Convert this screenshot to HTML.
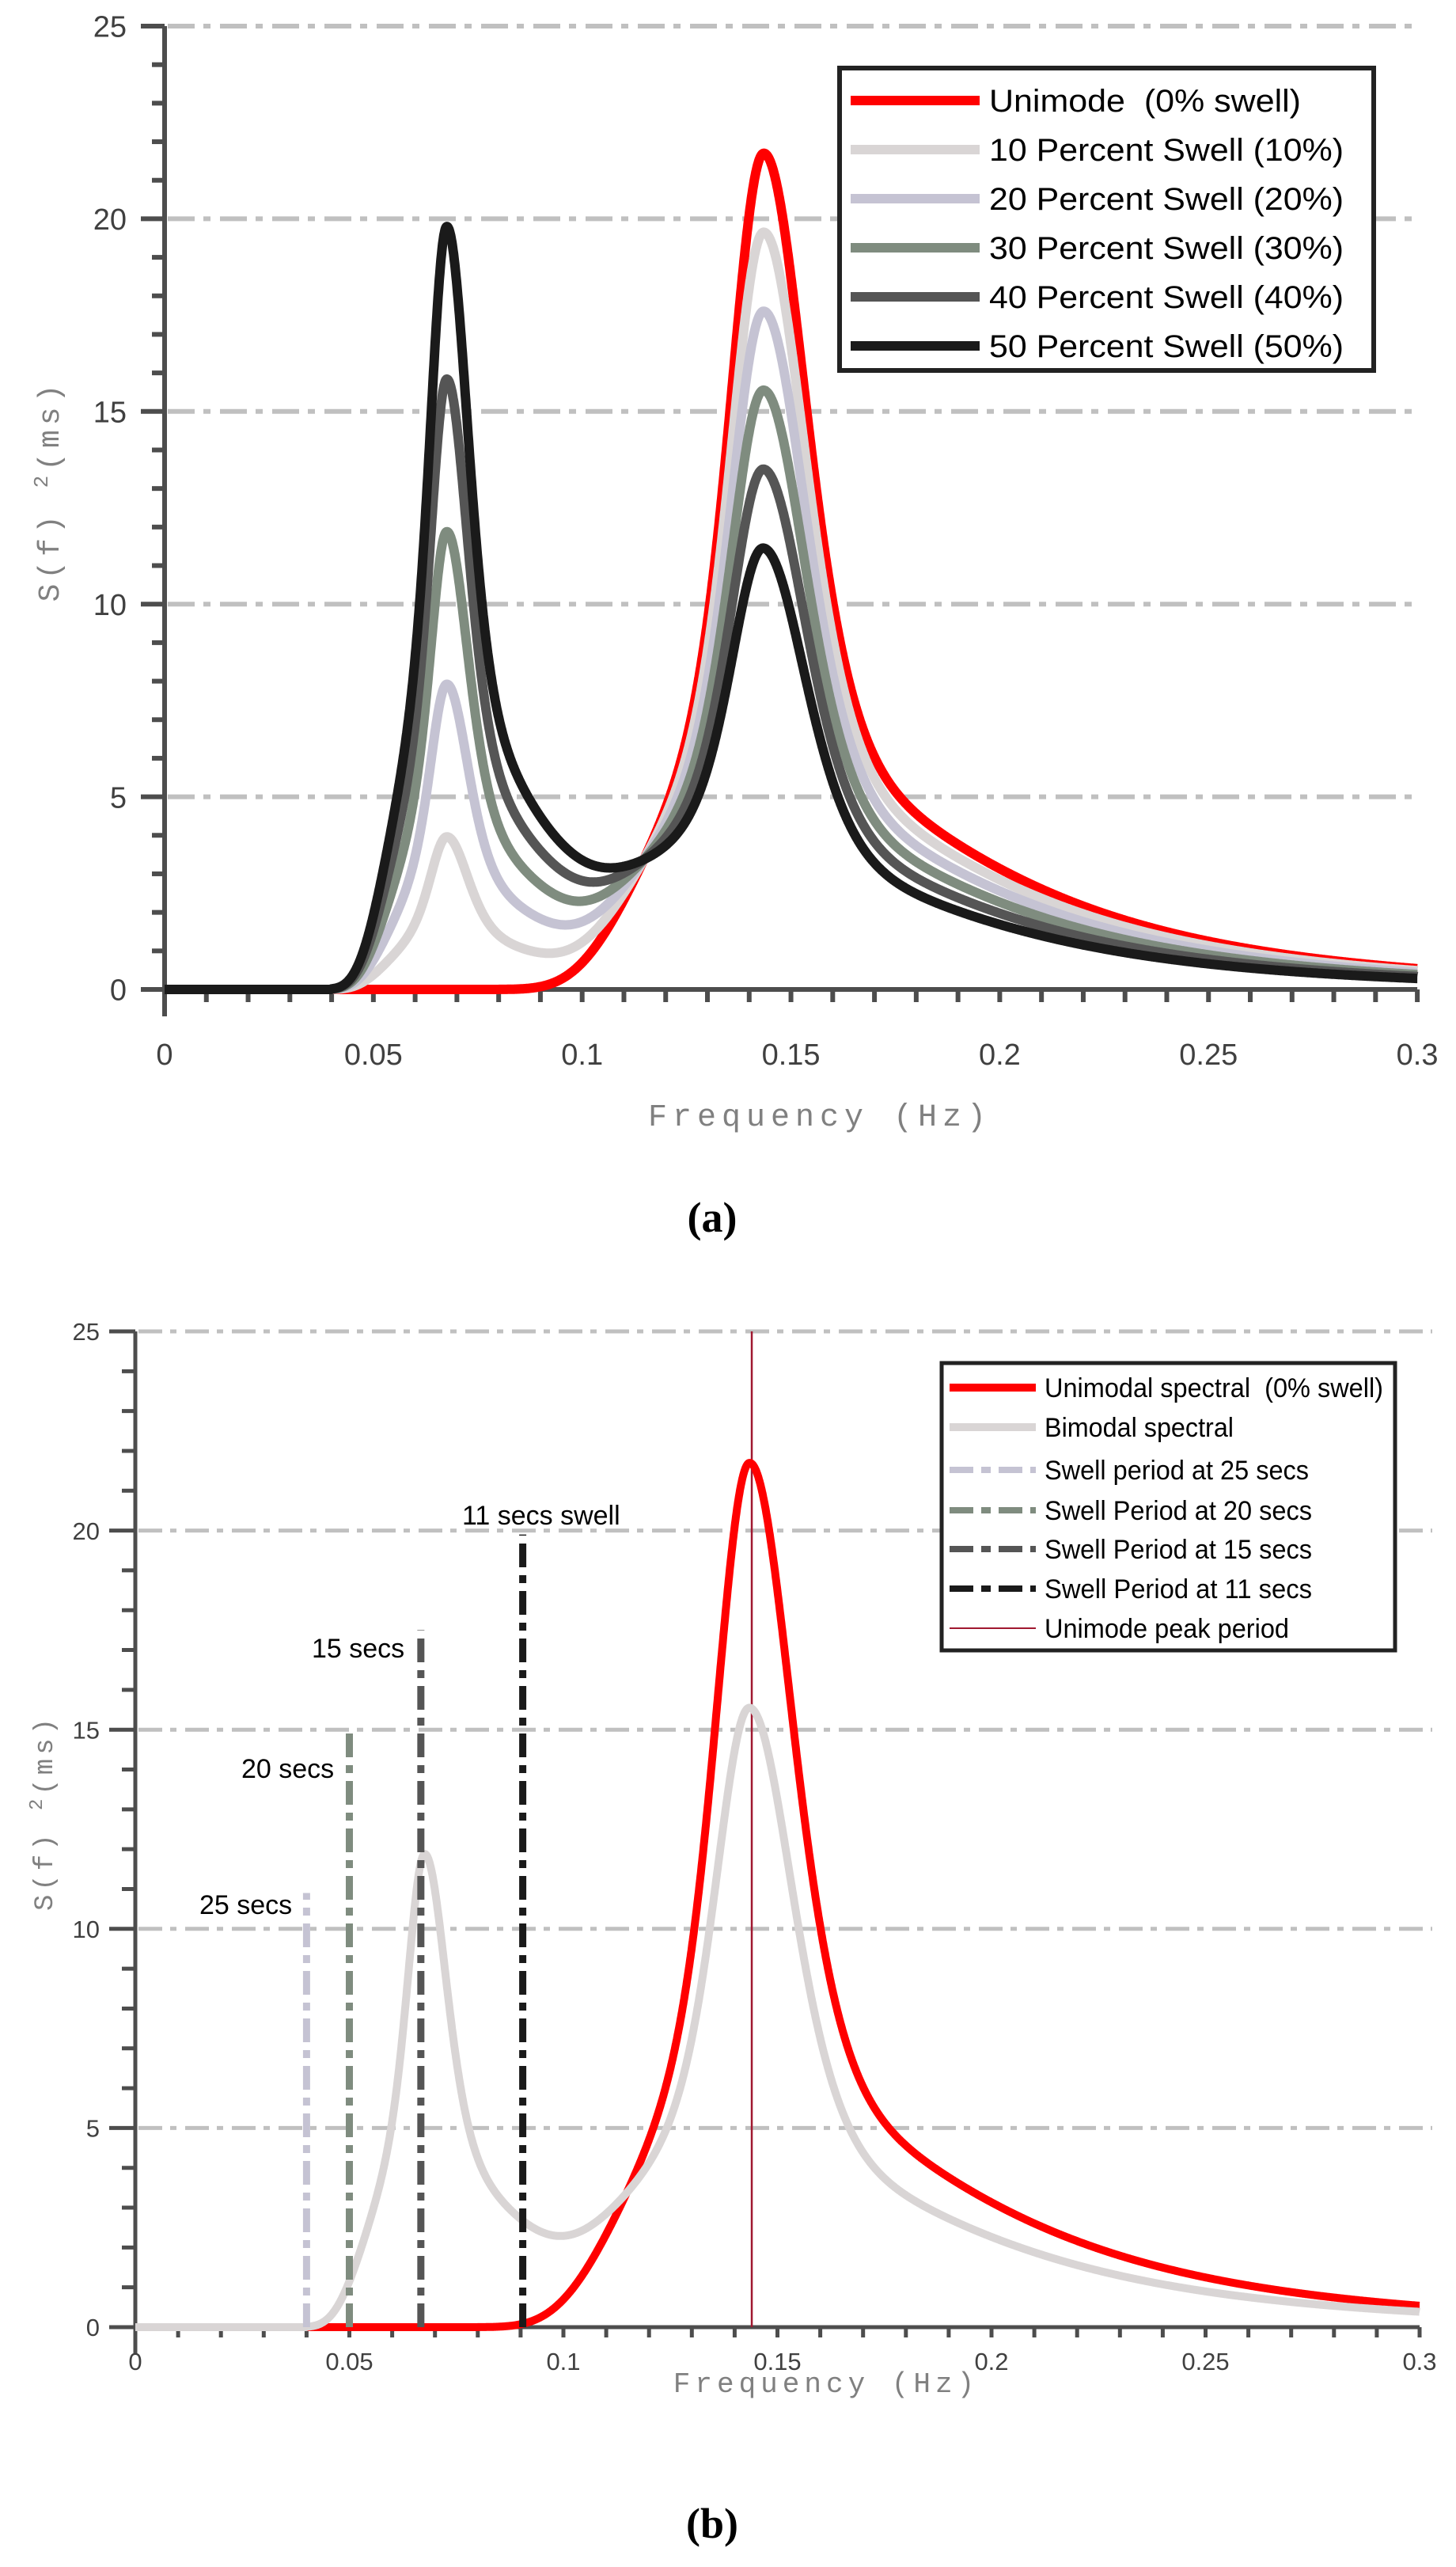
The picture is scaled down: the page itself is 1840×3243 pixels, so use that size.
<!DOCTYPE html>
<html><head><meta charset="utf-8">
<style>
html,body{margin:0;padding:0;background:#fff;}
svg{display:block;}
.tk{font-family:"Liberation Sans",sans-serif;fill:#404040;}
.mono{font-family:"Liberation Mono",monospace;fill:#808080;}
.lg{font-family:"Liberation Sans",sans-serif;fill:#000;}
</style></head>
<body>
<svg id="s" width="1840" height="3243" viewBox="0 0 1840 3243" xmlns="http://www.w3.org/2000/svg">
<rect width="1840" height="3243" fill="#fff"/>
<g id="A"></g>
<g id="B"></g>
<text class="mono" font-size="40" letter-spacing="7" x="1036" y="1422" text-anchor="middle">Frequency (Hz)</text>
<text class="mono" font-size="38" letter-spacing="6" transform="translate(74,620) rotate(-90)" text-anchor="middle">S(f) <tspan font-size="26" dy="-14">2</tspan><tspan dy="14">(ms)</tspan></text>
<text x="900" y="1556" font-family="Liberation Serif,serif" font-weight="bold" font-size="54" text-anchor="middle">(a)</text>
<rect x="1061" y="86" width="675" height="382" fill="#fff" stroke="#222" stroke-width="6"/>
<g stroke-width="12">
<line x1="1075" y1="127" x2="1238" y2="127" stroke="#ff0000"/>
<line x1="1075" y1="189" x2="1238" y2="189" stroke="#d9d5d5"/>
<line x1="1075" y1="251" x2="1238" y2="251" stroke="#c5c3d3"/>
<line x1="1075" y1="313" x2="1238" y2="313" stroke="#7f8c7f"/>
<line x1="1075" y1="375" x2="1238" y2="375" stroke="#555555"/>
<line x1="1075" y1="437" x2="1238" y2="437" stroke="#1a1a1a"/>
</g>
<g class="lg" font-size="40">
<text x="1250" y="141" xml:space="preserve" textLength="394" lengthAdjust="spacingAndGlyphs">Unimode  (0% swell)</text>
<text x="1250" y="203" textLength="448" lengthAdjust="spacingAndGlyphs">10 Percent Swell (10%)</text>
<text x="1250" y="265" textLength="448" lengthAdjust="spacingAndGlyphs">20 Percent Swell (20%)</text>
<text x="1250" y="327" textLength="448" lengthAdjust="spacingAndGlyphs">30 Percent Swell (30%)</text>
<text x="1250" y="389" textLength="448" lengthAdjust="spacingAndGlyphs">40 Percent Swell (40%)</text>
<text x="1250" y="451" textLength="448" lengthAdjust="spacingAndGlyphs">50 Percent Swell (50%)</text>
</g>
<text class="mono" font-size="36" letter-spacing="6" x="1044" y="3022" text-anchor="middle">Frequency (Hz)</text>
<text class="mono" font-size="34" letter-spacing="5" transform="translate(66,2290) rotate(-90)" text-anchor="middle">S(f) <tspan font-size="24" dy="-13">2</tspan><tspan dy="13">(ms)</tspan></text>
<text x="900" y="3206" font-family="Liberation Serif,serif" font-weight="bold" font-size="54" text-anchor="middle">(b)</text>
<g class="lg" font-size="34">
<text x="584" y="1926">11 secs swell</text>
<text x="394" y="2094">15 secs</text>
<text x="305" y="2246">20 secs</text>
<text x="252" y="2418">25 secs</text>
</g>
<g id="LB">
<rect x="1190" y="1722" width="573" height="363" fill="#fff" stroke="#222" stroke-width="5"/>
<line x1="1200" y1="1753" x2="1309" y2="1753" stroke="#ff0000" stroke-width="10"/>
<line x1="1200" y1="1803" x2="1309" y2="1803" stroke="#d9d5d5" stroke-width="10"/>
<line x1="1200" y1="1857" x2="1309" y2="1857" stroke="#c5c3d3" stroke-width="8" stroke-dasharray="30 10 12 10"/>
<line x1="1200" y1="1908" x2="1309" y2="1908" stroke="#7f8c7f" stroke-width="8" stroke-dasharray="30 10 12 10"/>
<line x1="1200" y1="1957" x2="1309" y2="1957" stroke="#555555" stroke-width="8" stroke-dasharray="30 10 12 10"/>
<line x1="1200" y1="2007" x2="1309" y2="2007" stroke="#1a1a1a" stroke-width="8" stroke-dasharray="30 10 12 10"/>
<line x1="1200" y1="2057" x2="1309" y2="2057" stroke="#a01830" stroke-width="2"/>
<g class="lg" font-size="34">
<text x="1320" y="1765" xml:space="preserve" textLength="428" lengthAdjust="spacingAndGlyphs">Unimodal spectral  (0% swell)</text>
<text x="1320" y="1815" textLength="239" lengthAdjust="spacingAndGlyphs">Bimodal spectral</text>
<text x="1320" y="1869" textLength="334" lengthAdjust="spacingAndGlyphs">Swell period at 25 secs</text>
<text x="1320" y="1920" textLength="338" lengthAdjust="spacingAndGlyphs">Swell Period at 20 secs</text>
<text x="1320" y="1969" textLength="338" lengthAdjust="spacingAndGlyphs">Swell Period at 15 secs</text>
<text x="1320" y="2019" textLength="338" lengthAdjust="spacingAndGlyphs">Swell Period at 11 secs</text>
<text x="1320" y="2069" textLength="309" lengthAdjust="spacingAndGlyphs">Unimode peak period</text>
</g>
</g>
</svg>
<script>
(function(){
var NS="http://www.w3.org/2000/svg";
function el(p,n,a){var e=document.createElementNS(NS,n);for(var k in a)e.setAttribute(k,a[k]);p.appendChild(e);return e;}
function shape(f,fp,g){ if(f<=0) return 0; var r=fp/f; var s=f<=fp?0.07:0.09;
  return Math.pow(r,5)*Math.exp(-1.25*(Math.pow(r,4)-1))*Math.pow(g,Math.exp(-(f-fp)*(f-fp)/(2*s*s*fp*fp))-1);}
function S(f,p){ var w=21.7*shape(f,0.1435,3.3); var sw=f<0.04?0:39.6*shape(f,0.0676,2.5);
  var v=(1-p)*w+p*sw; if(f<0.04) v=0; return v;}
function curve(g,X,Y,p,col,w){ var d="";for(var i=0;i<=3000;i++){var f=i*0.0001;
  d+=(i?"L":"M")+X(f).toFixed(1)+" "+Y(S(f,p)).toFixed(1);}
  el(g,"path",{d:d,fill:"none",stroke:col,"stroke-width":w,"stroke-linejoin":"round"});}
function axes(g,X,Y,o){
  for(var v=5;v<=25;v+=5) el(g,"line",{x1:X(0)+4,x2:o.gx2,y1:Y(v),y2:Y(v),stroke:"#c0c0c0","stroke-width":o.gw,"stroke-dasharray":o.dash});
  var ac="#4d4d4d";
  el(g,"line",{x1:X(0),x2:X(0),y1:Y(25),y2:Y(0)+o.ext,stroke:ac,"stroke-width":o.aw});
  el(g,"line",{x1:X(0),x2:X(0.3),y1:Y(0),y2:Y(0),stroke:ac,"stroke-width":o.aw});
  for(var i=0;i<=25;i++){var L=i%5==0?o.maj:o.min; el(g,"line",{x1:X(0)-L,x2:X(0),y1:Y(i),y2:Y(i),stroke:ac,"stroke-width":o.tw});
    if(i%5==0){var t=el(g,"text",{x:o.ylx,y:Y(i)+o.fs*0.36,"text-anchor":"end","font-size":o.fs,class:"tk"});t.textContent=i;}}
  for(var j=0;j<=30;j++){ el(g,"line",{x1:X(j/100),x2:X(j/100),y1:Y(0),y2:Y(0)+o.xmin,stroke:ac,"stroke-width":o.tw});
    if(j%5==0){var t2=el(g,"text",{x:X(j/100),y:o.xly,"text-anchor":"middle","font-size":o.fs,class:"tk"});t2.textContent=(j/100).toString();}}
}
var A=document.getElementById("A");
var XA=function(f){return 208+f*5277;}, YA=function(v){return 1250-v*48.68;};
axes(A,XA,YA,{gx2:1792,gw:6,dash:"34 11 9 12",ext:34,aw:6,tw:6,maj:30,min:16,xmin:16,fs:38,ylx:160,xly:1345});
curve(A,XA,YA,0,"#ff0000",12);
curve(A,XA,YA,0.1,"#d9d5d5",12);
curve(A,XA,YA,0.2,"#c5c3d3",12);
curve(A,XA,YA,0.3,"#7f8c7f",12);
curve(A,XA,YA,0.4,"#555555",12);
curve(A,XA,YA,0.5,"#1a1a1a",12);
var B=document.getElementById("B");
var XB=function(f){return 171+f*5410;}, YB=function(v){return 2940-v*50.32;};
axes(B,XB,YB,{gx2:1810,gw:5,dash:"30 10 8 11",ext:33,aw:5,tw:5,maj:33,min:17,xmin:13,fs:31,ylx:126,xly:2994});
el(B,"line",{x1:XB(0.144),x2:XB(0.144),y1:YB(25),y2:YB(0),stroke:"#a01830","stroke-width":2.5});
curve(B,XB,YB,0,"#ff0000",10);
curve(B,XB,YB,0.3,"#d9d5d5",10);
[[0.04,10.9,"#c5c3d3"],[0.05,15,"#7f8c7f"],[0.0667,17.5,"#555555"],[0.0905,19.9,"#1a1a1a"]].forEach(function(s){
  el(B,"line",{x1:XB(s[0]),x2:XB(s[0]),y1:YB(0),y2:YB(s[1]),stroke:s[2],"stroke-width":9,"stroke-dasharray":"30 10 10 10"});});
})();
</script>
</body></html>
